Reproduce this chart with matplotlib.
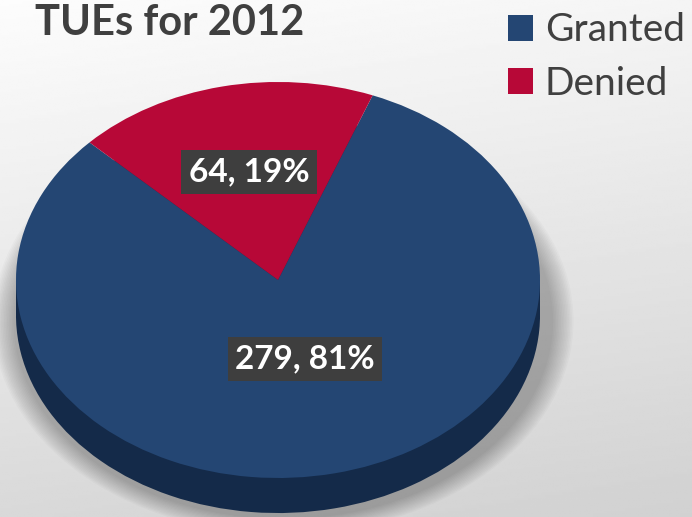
import matplotlib.pyplot as plt
import matplotlib.patches as mpatches
import numpy as np

# data
labels = ['Granted', 'Denied']
counts = [279, 64]
colors = ['#244673', '#b70837']
side_color = '#142a49'
title = 'TUEs for 2012'

depth = 0.177  # thickness of the pie, in units of the radius

plt.rcParams['font.family'] = ['Lato', 'DejaVu Sans']

fig = plt.figure(figsize=(6.92, 5.17), dpi=100)

# background gradient
bg = fig.add_axes([0, 0, 1, 1], zorder=-10)
yy, xx = np.mgrid[0:1:200j, 0:1:200j]
shade = 0.99 - 0.14 * yy - 0.03 * xx
bg.imshow(shade, cmap='gray', vmin=0, vmax=1, aspect='auto', extent=(0, 1, 0, 1), origin='upper')
bg.axis('off')

ax = fig.add_axes([0, 0, 1, 1])
ax.patch.set_alpha(0)

# soft shadow under the pie
for i in range(14):
    grow = 0.006 * i
    ax.add_patch(mpatches.Ellipse((0.02, -depth - 0.03), 2 * (1.03 + grow), 2 * (1.0 + grow),
                                  color='black', alpha=0.018, lw=0, zorder=0))

# side of the pie (the lower copy plus the band between the two faces)
ax.pie(counts, colors=[side_color, side_color], startangle=136, center=(0, -depth),
       wedgeprops=dict(linewidth=0, zorder=1))
ax.add_patch(mpatches.Rectangle((-1, -depth), 2, depth, color=side_color, lw=0, zorder=1))

# top face
wedges, _ = ax.pie(counts, colors=colors, startangle=136,
                   wedgeprops=dict(linewidth=0, zorder=2))

ax.set_aspect('auto')
ax.set_xlim(-1.061, 1.580)
ax.set_ylim(-1.197, 1.414)
ax.axis('off')

# data labels
total = sum(counts)
label_pos = [(0.103, -0.40), (-0.111, 0.545)]
for c, (x, y) in zip(counts, label_pos):
    ax.text(x, y, f'{c}, {round(100 * c / total)}%', color='white', fontsize=24,
            fontweight='bold', ha='center', va='center', zorder=5,
            bbox=dict(boxstyle='square,pad=0.22', fc='#3e3e3e', ec='none'))

fig.text(0.05, 0.955, title, fontsize=30, fontweight='bold', color='#3f3f3f',
         ha='left', va='center')

leg = fig.legend(wedges, labels, loc='upper right', bbox_to_anchor=(1.012, 1.006),
                 frameon=False, fontsize=28, handlelength=0.64, handleheight=0.64,
                 handletextpad=0.3, labelspacing=0.45, borderaxespad=0)
for t in leg.get_texts():
    t.set_color('#404040')

fig.savefig('out.png', dpi=100)
